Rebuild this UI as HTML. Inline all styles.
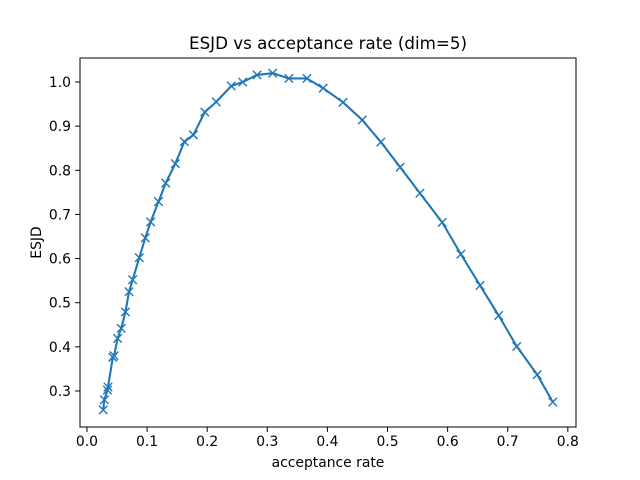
<!DOCTYPE html>
<html><head><meta charset="utf-8"><style>
body{margin:0;background:#fff;}
svg{display:block;font-family:"DejaVu Sans","Liberation Sans",sans-serif;}
</style></head><body>
<svg id="chart" width="640" height="480">
<rect width="640" height="480" fill="#fff"/>
<text x="328" y="49" text-anchor="middle" font-size="16.7">ESJD vs acceptance rate (dim=5)</text>
<g id="ticks"></g>
<g id="plot"></g>
<rect x="80" y="58" width="496" height="369" fill="none" stroke="#000" stroke-width="1"/>
<text x="328" y="467" text-anchor="middle" font-size="13.9">acceptance rate</text>
<text transform="translate(41,242.5) rotate(-90)" text-anchor="middle" font-size="13.9">ESJD</text>
</svg>
<script>
const acceptRate=[0.027,0.029,0.034,0.035,0.043,0.045,0.051,0.057,0.064,0.070,0.076,0.087,0.097,0.106,0.119,0.131,0.147,0.162,0.177,0.196,0.215,0.240,0.259,0.283,0.309,0.336,0.366,0.393,0.426,0.458,0.489,0.521,0.554,0.591,0.622,0.654,0.685,0.715,0.749,0.775];
const esjd=[0.257,0.280,0.302,0.309,0.376,0.380,0.419,0.442,0.479,0.525,0.552,0.602,0.647,0.683,0.729,0.771,0.815,0.865,0.880,0.932,0.955,0.991,1.000,1.016,1.020,1.008,1.008,0.986,0.954,0.914,0.864,0.807,0.748,0.682,0.610,0.539,0.471,0.401,0.337,0.275];
const xTicks=[0.0,0.1,0.2,0.3,0.4,0.5,0.6,0.7,0.8];
const yTicks=[0.3,0.4,0.5,0.6,0.7,0.8,0.9,1.0];
const X0=80,X1=576,Y0=427,Y1=58;
const xMin=-0.0116,xMax=0.8136,yMin=0.2184,yMax=1.0544;
const sx=v=>X0+(v-xMin)/(xMax-xMin)*(X1-X0);
const sy=v=>Y0-(v-yMin)/(yMax-yMin)*(Y0-Y1);
const NS="http://www.w3.org/2000/svg";
const tg=document.getElementById('ticks'),pg=document.getElementById('plot');
function mk(tag,attrs,parent){const e=document.createElementNS(NS,tag);for(const k in attrs)e.setAttribute(k,attrs[k]);parent.appendChild(e);return e;}
xTicks.forEach(t=>{const x=sx(t);
const l=mk('line',{x1:x,x2:x,y1:427,y2:431.9,stroke:'#000'},tg);


const tx=mk('text',{x:x,y:446,'text-anchor':'middle','font-size':13.9},tg);tx.textContent=t.toFixed(1);

});
yTicks.forEach(t=>{const y=sy(t);
const l=mk('line',{x1:75.1,x2:80,y1:y,y2:y,stroke:'#000'},tg);


const tx=mk('text',{x:71,y:y+5,'text-anchor':'end','font-size':13.9},tg);tx.textContent=t.toFixed(1);

});
const pts=acceptRate.map((a,i)=>sx(a).toFixed(2)+','+sy(esjd[i]).toFixed(2)).join(' ');
const line=mk('polyline',{points:pts,fill:'none',stroke:'#1f77b4','stroke-width':2.1,'stroke-linejoin':'round'},pg);


acceptRate.forEach((a,i)=>{const x=sx(a),y=sy(esjd[i]),r=4.2;
const m=mk('path',{d:`M${x-r},${y-r}L${x+r},${y+r}M${x-r},${y+r}L${x+r},${y-r}`,stroke:'#1f77b4','stroke-width':1.4,fill:'none'},pg);

});
</script>
</body></html>
